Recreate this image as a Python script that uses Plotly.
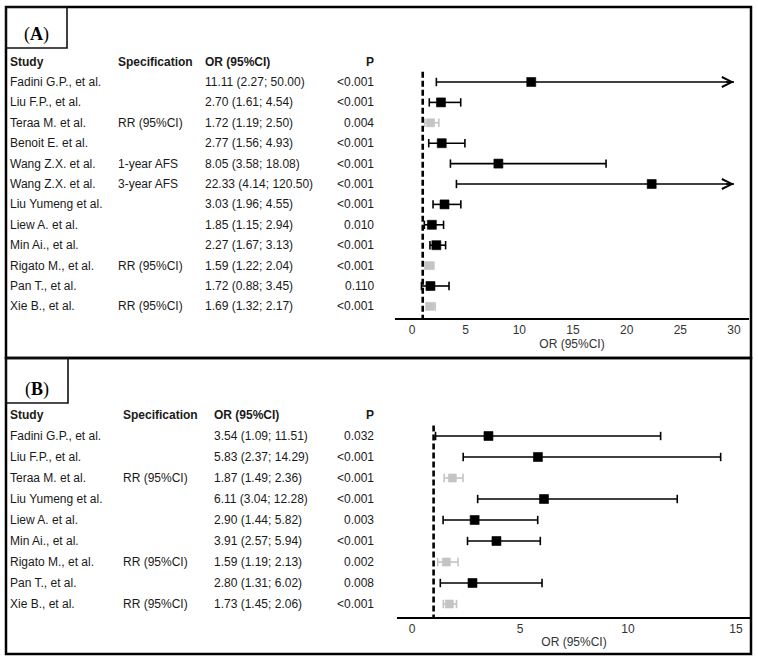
import plotly.graph_objects as go

# ---------------- data ----------------
studies_a = ["Fadini G.P., et al.", "Liu F.P., et al.", "Teraa M. et al.", "Benoit E. et al.",
             "Wang Z.X. et al.", "Wang Z.X. et al.", "Liu Yumeng et al.", "Liew A. et al.",
             "Min Ai., et al.", "Rigato M., et al.", "Pan T., et al.", "Xie B., et al."]
spec_a = ["", "", "RR (95%CI)", "", "1-year AFS", "3-year AFS", "", "", "", "RR (95%CI)", "", "RR (95%CI)"]
or_a = [11.11, 2.70, 1.72, 2.77, 8.05, 22.33, 3.03, 1.85, 2.27, 1.59, 1.72, 1.69]
lo_a = [2.27, 1.61, 1.19, 1.56, 3.58, 4.14, 1.96, 1.15, 1.67, 1.22, 0.88, 1.32]
hi_a = [50.00, 4.54, 2.50, 4.93, 18.08, 120.50, 4.55, 2.94, 3.13, 2.04, 3.45, 2.17]
p_a = ["<0.001", "<0.001", "0.004", "<0.001", "<0.001", "<0.001", "<0.001", "0.010",
       "<0.001", "<0.001", "0.110", "<0.001"]
ticks_a = [0, 5, 10, 15, 20, 25, 30]

studies_b = ["Fadini G.P., et al.", "Liu F.P., et al.", "Teraa M. et al.", "Liu Yumeng et al.",
             "Liew A. et al.", "Min Ai., et al.", "Rigato M., et al.", "Pan T., et al.", "Xie B., et al."]
spec_b = ["", "", "RR (95%CI)", "", "", "", "RR (95%CI)", "", "RR (95%CI)"]
or_b = [3.54, 5.83, 1.87, 6.11, 2.90, 3.91, 1.59, 2.80, 1.73]
lo_b = [1.09, 2.37, 1.49, 3.04, 1.44, 2.57, 1.19, 1.31, 1.45]
hi_b = [11.51, 14.29, 2.36, 12.28, 5.82, 5.94, 2.13, 6.02, 2.06]
p_b = ["0.032", "<0.001", "<0.001", "<0.001", "0.003", "<0.001", "0.002", "0.008", "<0.001"]
ticks_b = [0, 5, 10, 15]

headers = ["Study", "Specification", "OR (95%CI)", "P"]
NULL_OR = 1
RR_LABEL = "RR (95%CI)"

# ---------------- layout helpers ----------------
W, H = 758, 661
def px(x):
    return x / W
def py(y):
    return 1 - y / H

FONT = "Liberation Sans, Arial, sans-serif"
TXT = "#1a1a1a"
BLACK = "#000000"
GRAY = "#c4c4c4"

fig = go.Figure()

panels = [
    dict(label="A", studies=studies_a, spec=spec_a, orv=or_a, lo=lo_a, hi=hi_a, p=p_a, ticks=ticks_a,
         xmax=30, box=(6, 7, 751, 358), lbox=(6, 7, 67, 48), ly=34,
         xdom=(395, 749), xzero=412, xunit=(734 - 412) / 30,
         ydom=(7, 318), row0=82, step=20.4, cols=(8, 116, 203, 376), ax="", ay=""),
    dict(label="B", studies=studies_b, spec=spec_b, orv=or_b, lo=lo_b, hi=hi_b, p=p_b, ticks=ticks_b,
         xmax=15, box=(6, 358, 751, 654), lbox=(6, 358, 68, 403), ly=389,
         xdom=(397, 751), xzero=412, xunit=(736 - 412) / 15,
         ydom=(358, 617), row0=436, step=21.0, cols=(8, 121, 212, 376), ax="2", ay="2"),
]

shapes = []
annotations = []

for pn in panels:
    xa = "x" + pn["ax"]
    ya = "y" + pn["ay"]
    n = len(pn["studies"])
    rows = list(range(n))
    colors = [GRAY if s == RR_LABEL else BLACK for s in pn["spec"]]

    # CI segments, split by colour
    for col in (BLACK, GRAY):
        xs, ys = [], []
        capx, capy = [], []
        for i in rows:
            if colors[i] != col:
                continue
            hi_c = min(pn["hi"][i], pn["xmax"])
            xs += [pn["lo"][i], hi_c, None]
            ys += [i, i, None]
            capx.append(pn["lo"][i]); capy.append(i)
            if pn["hi"][i] <= pn["xmax"]:
                capx.append(pn["hi"][i]); capy.append(i)
        fig.add_trace(go.Scatter(x=xs, y=ys, mode="lines", line=dict(color=col, width=1.6),
                                 xaxis=xa, yaxis=ya, showlegend=False, hoverinfo="skip"))
        fig.add_trace(go.Scatter(x=capx, y=capy, mode="markers",
                                 marker=dict(symbol="line-ns", size=6, line=dict(color=col, width=1.6)),
                                 xaxis=xa, yaxis=ya, showlegend=False, hoverinfo="skip"))
    # point estimates
    fig.add_trace(go.Scatter(x=pn["orv"], y=rows, mode="markers",
                             marker=dict(symbol="square", size=[9 if c == BLACK else 8 for c in colors],
                                         color=colors, opacity=1, line=dict(width=0.6, color=colors)),
                             xaxis=xa, yaxis=ya, showlegend=False))
    # arrows for truncated CIs
    for i in rows:
        if pn["hi"][i] > pn["xmax"]:
            annotations.append(dict(x=pn["xmax"], y=i, ax=pn["xmax"] * 0.97, ay=i,
                                    xref=xa, yref=ya, axref=xa, ayref=ya, text="",
                                    showarrow=True, arrowhead=5, arrowsize=1.4, arrowwidth=1.4,
                                    arrowcolor=colors[i], standoff=0))

    # axes geometry
    x0p, x1p = pn["xdom"]
    xr = ((x0p - pn["xzero"]) / pn["xunit"], (x1p - pn["xzero"]) / pn["xunit"])
    y0p, y1p = pn["ydom"]
    yr = ((y1p - pn["row0"]) / pn["step"], (y0p - pn["row0"]) / pn["step"])

    # null line
    shapes.append(dict(type="line", xref=xa, yref=ya, x0=NULL_OR, x1=NULL_OR, y0=-0.5, y1=yr[0],
                       line=dict(color=BLACK, width=2.6, dash="6px,3px")))

    fig.update_layout(**{
        "xaxis" + pn["ax"]: dict(domain=[px(x0p), px(x1p)], range=list(xr), anchor=ya,
                                 showline=True, linecolor=BLACK, linewidth=2, ticks="",
                                 tickvals=pn["ticks"], showgrid=False, zeroline=False,
                                 tickfont=dict(family=FONT, size=12, color="#333333"),
                                 title=dict(text="OR (95%CI)", standoff=2,
                                            font=dict(family=FONT, size=12, color="#333333"))),
        "yaxis" + pn["ay"]: dict(domain=[py(y1p), py(y0p)], range=list(yr), anchor=xa,
                                 visible=False, showgrid=False, zeroline=False),
    })

    # table text
    cx = pn["cols"]
    for j, h in enumerate(headers):
        annotations.append(dict(x=px(cx[j]), y=-1, xref="paper", yref=ya, text="<b>%s</b>" % h,
                                showarrow=False, xanchor="right" if j == 3 else "left", yanchor="middle",
                                font=dict(family=FONT, size=12, color=TXT)))
    for i in rows:
        cells = [pn["studies"][i], pn["spec"][i],
                 "%.2f (%.2f; %.2f)" % (pn["orv"][i], pn["lo"][i], pn["hi"][i]), pn["p"][i]]
        for j, t in enumerate(cells):
            if not t:
                continue
            annotations.append(dict(x=px(cx[j]), y=i, xref="paper", yref=ya, text=t,
                                    showarrow=False, xanchor="right" if j == 3 else "left",
                                    yanchor="middle", font=dict(family=FONT, size=12, color=TXT)))

    # panel boxes
    bx = pn["box"]
    shapes.append(dict(type="rect", xref="paper", yref="paper", x0=px(bx[0]), x1=px(bx[2]),
                       y0=py(bx[3]), y1=py(bx[1]), line=dict(color=BLACK, width=2.5)))
    lb = pn["lbox"]
    shapes.append(dict(type="rect", xref="paper", yref="paper", x0=px(lb[0]), x1=px(lb[2]),
                       y0=py(lb[3]), y1=py(lb[1]), line=dict(color="#111111", width=1.6)))
    annotations.append(dict(x=px((lb[0] + lb[2]) / 2), y=py(pn["ly"]), xref="paper", yref="paper",
                            text="(<b>%s</b>)" % pn["label"], showarrow=False,
                            xanchor="center", yanchor="middle",
                            font=dict(family="Liberation Serif, Times New Roman, serif", size=18, color=BLACK)))

fig.update_layout(width=W, height=H, margin=dict(l=0, r=0, t=0, b=0),
                  paper_bgcolor="white", plot_bgcolor="white",
                  shapes=shapes, annotations=annotations, showlegend=False)

fig.write_html("out.html", config={"displayModeBar": False},
               post_script="document.body.style.margin='0';document.body.style.overflow='hidden';")
